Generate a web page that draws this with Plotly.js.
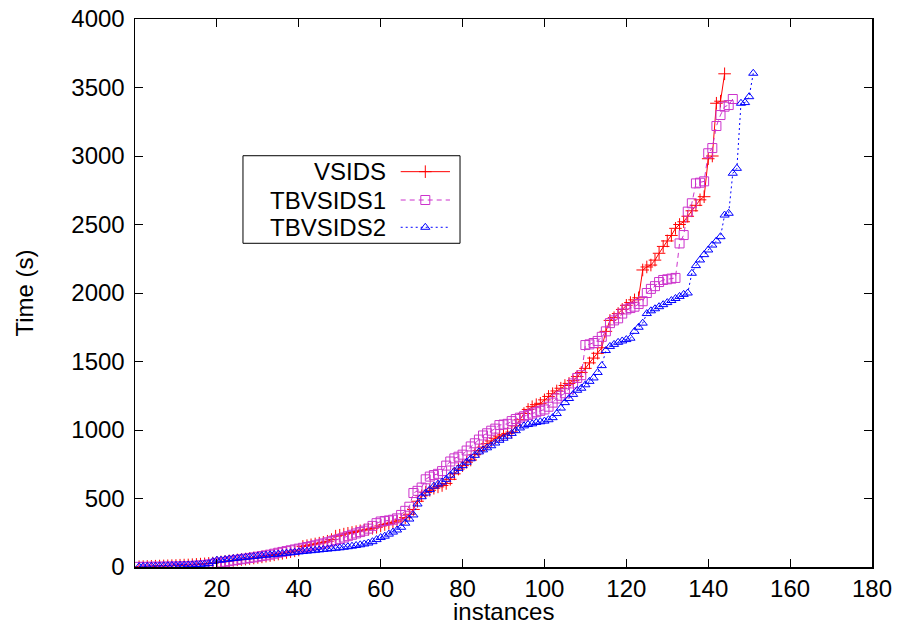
<!DOCTYPE html>
<html>
<head>
<meta charset="utf-8">
<script src="https://cdn.plot.ly/plotly-3.0.1.min.js"></script>
<style>html,body{margin:0;padding:0;background:#fff;}#chart{width:898px;height:624px;}</style>
</head>
<body>
<div id="chart"></div>
<script>
// Series names
const seriesNames = ["VSIDS", "TBVSIDS1", "TBVSIDS2"];

// Time (s) for each instance, sorted (cactus plot)
const vsids = [
  2,3,4,5,6,7,8,9,10,11,13,14,15,17,19,21,23,26,29,33,
  37,41,45,48,52,55,58,62,66,70,74,79,84,89,95,100,106,112,118,124,
  150,156,162,168,174,180,188,200,225,232,240,246,252,258,264,270,276,283,290,300,
  310,318,326,335,345,360,385,420,480,520,
  545,560,575,585,595,610,640,680,715,740,
  765,781,820,850,875,900,920,940,955,965,
  975,985,1030,1075,1120,1150,1170,1185,1195,1220,
  1245,1265,1285,1305,1325,1340,1360,1390,1420,1450,
  1490,1525,1560,1600,1720,1800,1820,1850,1880,1910,
  1930,1950,1965,2168,2190,2204,2240,2290,2340,2380,
  2420,2472,2500,2520,2560,2600,2640,2680,2703,2980,
  3000,3385,3400,3600
];
const tbvsids1 = [
  1,1,1,2,2,2,3,3,3,4,5,6,7,8,10,12,15,19,23,28,
  33,38,43,48,52,57,61,66,70,75,80,85,90,97,104,110,116,122,128,134,
  140,146,152,158,165,172,180,188,196,205,215,225,235,245,255,265,280,300,320,332,
  336,340,345,355,380,410,440,540,556,580,
  640,660,671,680,700,740,770,793,805,820,
  850,880,903,930,960,976,995,1010,1036,1040,
  1045,1065,1080,1090,1100,1110,1120,1130,1140,1150,
  1170,1200,1230,1250,1268,1300,1340,1380,1400,1620,
  1625,1635,1650,1680,1720,1780,1800,1815,1850,1880,
  1890,1900,1920,1940,2000,2030,2050,2080,2095,2100,
  2105,2110,2362,2423,2594,2655,2800,2805,2815,3020,
  3058,3219,3299,3360,3372,3416
];
const tbvsids2 = [
  3,4,5,6,7,8,9,10,11,12,13,14,15,16,18,20,22,25,40,50,
  50,54,58,62,65,68,71,74,77,80,83,86,89,92,95,98,101,104,107,110,
  113,116,119,122,125,128,131,134,137,140,144,148,152,157,162,168,175,185,200,215,
  225,240,255,270,290,320,350,380,460,513,
  540,565,590,605,620,640,670,700,720,740,
  765,790,815,840,855,870,885,905,925,940,
  955,975,995,1015,1030,1040,1045,1055,1060,1065,
  1075,1090,1120,1160,1200,1230,1260,1290,1305,1330,
  1355,1380,1420,1470,1580,1610,1625,1640,1650,1660,
  1670,1720,1750,1780,1850,1870,1885,1900,1915,1930,
  1945,1960,1975,1990,2000,2144,2200,2241,2280,2314,
  2350,2380,2411,2569,2582,2874,2910,3385,3390,3433,3604
];

// Axis ticks
const xTicks = [20, 40, 60, 80, 100, 120, 140, 160, 180];
const yTicks = [0, 500, 1000, 1500, 2000, 2500, 3000, 3500, 4000];

const colors = ["#ff0000", "#cc33cc", "#0000ff"];
const dashes = ["solid", "5px,4px", "2px,3px"];
const symbols = ["cross-thin-open", "square-open", "triangle-up-open"];
const sizes = [9, 9, 8];
const allData = [vsids, tbvsids1, tbvsids2];
const FONT = "Liberation Sans, Arial, Helvetica, sans-serif";

const traces = allData.map((vals, k) => ({
  type: "scatter",
  mode: "lines+markers",
  x: vals.map((_, i) => i + 1),
  y: vals,
  name: seriesNames[k],
  showlegend: false,
  line: {color: colors[k], width: 1, dash: dashes[k]},
  marker: {symbol: symbols[k], size: sizes[k], color: colors[k], line: {color: colors[k], width: 1}},
  cliponaxis: true
}));

// Custom gnuplot-style legend (text right, sample on right), in an overlay unit space
const legRowY = [0.7214, 0.6697, 0.6199];
const legX0 = 0.3605, legX1 = 0.4274, legXM = 0.3939;
seriesNames.forEach((n, k) => {
  traces.push({
    type: "scatter", mode: "lines", xaxis: "x2", yaxis: "y2", showlegend: false, hoverinfo: "skip",
    x: [legX0, legX1], y: [legRowY[k], legRowY[k]],
    line: {color: colors[k], width: 1, dash: dashes[k]}
  });
  traces.push({
    type: "scatter", mode: "markers", xaxis: "x2", yaxis: "y2", showlegend: false, hoverinfo: "skip",
    x: [legXM], y: [legRowY[k]],
    marker: {symbol: symbols[k], size: sizes[k], color: colors[k], line: {color: colors[k], width: 1}}
  });
});

const annotations = seriesNames.map((n, k) => ({
  xref: "paper", yref: "paper", x: 0.3433, y: legRowY[k],
  xanchor: "right", yanchor: "middle", showarrow: false,
  text: n, font: {family: FONT, size: 24, color: "#000"}
}));
// x-axis title placed just under the tick labels
annotations.push({
  xref: "paper", yref: "paper", x: 0.5, y: -0.0821,
  xanchor: "center", yanchor: "middle", showarrow: false,
  text: "instances", font: {family: FONT, size: 24, color: "#000"}
});

const layout = {
  width: 898, height: 624,
  margin: {l: 135, r: 26, t: 19, b: 57},
  paper_bgcolor: "#fff", plot_bgcolor: "#fff",
  font: {family: FONT, size: 24, color: "#000"},
  showlegend: false,
  xaxis: {
    range: [0, 180], tickmode: "array", tickvals: xTicks, ticktext: xTicks.map(String),
    ticks: "inside", ticklen: 8, tickwidth: 1, tickcolor: "#000",
    showline: true, linecolor: "#000", linewidth: 1.5, mirror: "ticks",
    showgrid: false, zeroline: false, ticklabelstandoff: 0,
    tickfont: {family: FONT, size: 24, color: "#000"},
    automargin: false
  },
  yaxis: {
    range: [0, 4000], tickmode: "array", tickvals: yTicks, ticktext: yTicks.map(String),
    ticks: "inside", ticklen: 8, tickwidth: 1, tickcolor: "#000",
    showline: true, linecolor: "#000", linewidth: 1.5, mirror: "ticks",
    showgrid: false, zeroline: false, ticklabelstandoff: 4,
    tickfont: {family: FONT, size: 24, color: "#000"},
    title: {text: "Time (s)", font: {family: FONT, size: 24, color: "#000"}, standoff: 31},
    automargin: false
  },
  xaxis2: {overlaying: "x", range: [0, 1], visible: false, fixedrange: true},
  yaxis2: {overlaying: "y", range: [0, 1], visible: false, fixedrange: true},
  shapes: [{
    type: "rect", xref: "paper", yref: "paper",
    x0: 0.1465, x1: 0.441, y0: 0.5907, y1: 0.7505,
    line: {color: "#000", width: 1}, fillcolor: "rgba(0,0,0,0)", layer: "above"
  }],
  annotations: annotations
};

Plotly.newPlot("chart", traces, layout, {displayModeBar: false, staticPlot: true});
</script>
</body>
</html>
